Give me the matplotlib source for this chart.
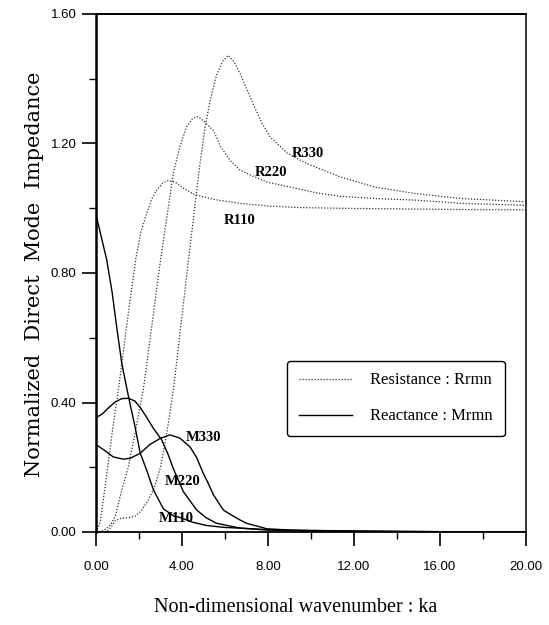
import numpy as np
import matplotlib
matplotlib.use('Agg')
import matplotlib.pyplot as plt
from matplotlib.lines import Line2D
from matplotlib.ticker import MultipleLocator, FormatStrFormatter

# Resistance curves
x_r110 = [0, 0.2, 0.4, 0.6, 0.8, 1.04, 1.43, 1.84, 2.1, 2.36, 2.6, 2.82, 3.1, 3.36, 3.7, 4.1, 4.6,
          5.5, 6.7, 8, 9.5, 11.35, 14, 17, 20]
r110 = [0, 0.03, 0.13, 0.23, 0.33, 0.44, 0.64, 0.84, 0.93, 0.985, 1.03, 1.056, 1.078, 1.086, 1.08,
        1.06, 1.042, 1.027, 1.015, 1.007, 1.002, 1.0, 0.998, 0.996, 0.995]

x_r220 = [0, 0.4, 0.7, 0.9, 1.2, 1.5, 1.8, 2.2, 2.6, 3.0, 3.3, 3.6, 3.9, 4.2, 4.5, 4.75, 5.0,
          5.46, 5.8, 6.23, 6.7, 7.16, 8, 9, 10.3, 11.35, 13, 14.9, 17, 20]
r220 = [0, 0.005, 0.025, 0.05, 0.13, 0.2, 0.3, 0.44, 0.64, 0.84, 0.975, 1.11, 1.19, 1.25, 1.278,
        1.283, 1.27, 1.24, 1.19, 1.148, 1.118, 1.103, 1.08, 1.066, 1.047, 1.037, 1.03, 1.025, 1.015, 1.009]

x_r330 = [0, 0.5, 0.7, 0.9, 1.2, 1.5, 1.8, 2.1, 2.4, 2.7, 3.0, 3.3, 3.6, 3.95, 4.3, 4.55, 4.8,
          5.07, 5.3, 5.6, 5.9, 6.15, 6.4, 6.7, 7.0, 7.32, 7.7, 8.1, 8.9, 9.8, 11.35, 13, 14.9, 17, 20]
r330 = [0, 0.0, 0.015, 0.035, 0.043, 0.044, 0.048, 0.065, 0.095, 0.135, 0.2, 0.31, 0.44, 0.64,
        0.84, 0.98, 1.12, 1.25, 1.33, 1.41, 1.455, 1.472, 1.455, 1.416, 1.37, 1.32, 1.265, 1.22,
        1.17, 1.138, 1.097, 1.065, 1.045, 1.03, 1.02]

# Reactance curves
x_m110 = [0, 0.25, 0.5, 0.75, 0.96, 1.2, 1.43, 1.6, 1.8, 2.05, 2.36, 2.67, 3.13, 3.6, 3.9, 4.5,
          5.15, 6, 6.7, 8, 10, 13, 16, 20]
m110 = [0.98, 0.91, 0.84, 0.74, 0.634, 0.52, 0.444, 0.39, 0.33, 0.245, 0.19, 0.13, 0.072, 0.05,
        0.045, 0.03, 0.02, 0.014, 0.012, 0.007, 0.004, 0.002, 0.001, 0.0005]

x_m220 = [0, 0.3, 0.6, 0.9, 1.2, 1.5, 1.8, 2.05, 2.3, 2.67, 3.05, 3.35, 3.6, 4.06, 4.68, 5.1,
          5.6, 6.7, 8, 10, 14, 20]
m220 = [0.353, 0.365, 0.385, 0.402, 0.412, 0.413, 0.405, 0.385, 0.36, 0.32, 0.285, 0.24, 0.195,
        0.125, 0.068, 0.045, 0.027, 0.012, 0.006, 0.003, 0.001, 0.0]

x_m330 = [0, 0.4, 0.8, 1.27, 1.6, 2.05, 2.5, 2.98, 3.44, 3.9, 4.37, 4.68, 4.99, 5.22, 5.46, 5.92,
          6.23, 6.7, 7.0, 7.94, 9, 12, 16, 20]
m330 = [0.27, 0.252, 0.232, 0.225, 0.228, 0.243, 0.27, 0.289, 0.3, 0.29, 0.263, 0.23, 0.181, 0.15,
        0.115, 0.068, 0.055, 0.037, 0.027, 0.01, 0.006, 0.003, 0.001, 0.0]

curve_labels = ['R330', 'R220', 'R110', 'M330', 'M220', 'M110']
label_x = [9.86, 8.14, 6.7, 4.98, 4.05, 3.72]
label_y = [1.17, 1.11, 0.963, 0.293, 0.157, 0.043]

serif = 'Liberation Serif'
dots = (0, (1, 1.4))

fig = plt.figure(figsize=(5.49, 6.25), dpi=100)
ax = fig.add_axes([0.1749, 0.1488, 0.7833, 0.8288])

for xs, ys in [(x_r110, r110), (x_r220, r220), (x_r330, r330)]:
    ax.plot(xs, ys, color='#333333', lw=0.9, linestyle=dots)
for xs, ys in [(x_m110, m110), (x_m220, m220), (x_m330, m330)]:
    ax.plot(xs, ys, color='black', lw=1.0)

for t, lx, ly in zip(curve_labels, label_x, label_y):
    ax.text(lx, ly, t, fontsize=10.5, family=serif, weight='bold', ha='center', va='center')

ax.set_xlim(0, 20)
ax.set_ylim(0, 1.6)
ax.xaxis.set_major_locator(MultipleLocator(4))
ax.xaxis.set_minor_locator(MultipleLocator(2))
ax.yaxis.set_major_locator(MultipleLocator(0.4))
ax.yaxis.set_minor_locator(MultipleLocator(0.2))
ax.xaxis.set_major_formatter(FormatStrFormatter('%.2f'))
ax.yaxis.set_major_formatter(FormatStrFormatter('%.2f'))
ax.tick_params(which='major', direction='out', length=10, width=1.2, labelsize=9.5)
ax.tick_params(which='minor', direction='out', length=5, width=1.0)
ax.tick_params(axis='x', which='major', pad=11)
ax.tick_params(axis='y', which='major', pad=4)
for lab in ax.get_xticklabels() + ax.get_yticklabels():
    lab.set_family('Liberation Sans')

ax.spines['left'].set_linewidth(1.8)
ax.spines['bottom'].set_linewidth(1.3)
ax.spines['top'].set_linewidth(1.4)
ax.spines['right'].set_linewidth(1.1)

ax.set_xlabel('Non-dimensional wavenumber : ka', fontsize=14.5, family=serif)
ax.xaxis.set_label_coords(0.465, -0.127)
ax.set_ylabel('Normalized  Direct  Mode  Impedance', fontsize=15, family='DejaVu Serif')
ax.yaxis.set_label_coords(-0.121, 0.498)

handles = [Line2D([], [], color='#333333', lw=0.9, linestyle=dots),
           Line2D([], [], color='black', lw=1.0)]
leg = ax.legend(handles, ['Resistance : Rrmn', 'Reactance : Mrmn'], loc='center',
                bbox_to_anchor=(0.6975, 0.258), fancybox=True, framealpha=1,
                edgecolor='black', handlelength=3.2, handletextpad=1.1, labelspacing=1.2,
                borderpad=0.7, prop={'family': serif, 'size': 12})
leg.get_frame().set_linewidth(1.0)

fig.savefig('out.png', dpi=100)
